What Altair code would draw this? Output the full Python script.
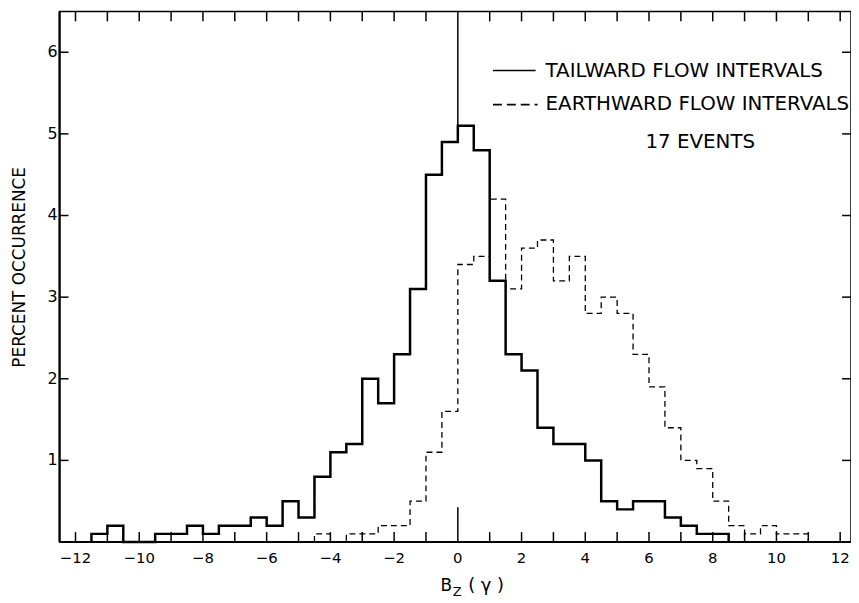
import altair as alt
import pandas as pd

# ---------------- data ----------------
tail_bin_left = [-11.5, -11.0, -10.5, -10.0, -9.5, -9.0, -8.5, -8.0, -7.5, -7.0,
                 -6.5, -6.0, -5.5, -5.0, -4.5, -4.0, -3.5, -3.0, -2.5, -2.0,
                 -1.5, -1.0, -0.5, 0.0, 0.5, 1.0, 1.5, 2.0, 2.5, 3.0,
                 3.5, 4.0, 4.5, 5.0, 5.5, 6.0, 6.5, 7.0, 7.5, 8.0]
tail_values = [0.1, 0.2, 0.0, 0.0, 0.1, 0.1, 0.2, 0.1, 0.2, 0.2,
               0.3, 0.2, 0.5, 0.3, 0.8, 1.1, 1.2, 2.0, 1.7, 2.3,
               3.1, 4.5, 4.9, 5.1, 4.8, 3.2, 2.3, 2.1, 1.4, 1.2,
               1.2, 1.0, 0.5, 0.4, 0.5, 0.5, 0.3, 0.2, 0.1, 0.1]
tail_end = 8.5

earth_bin_left = [-4.5, -4.0, -3.5, -3.0, -2.5, -2.0, -1.5, -1.0, -0.5, 0.0,
                  0.5, 1.0, 1.5, 2.0, 2.5, 3.0, 3.5, 4.0, 4.5, 5.0,
                  5.5, 6.0, 6.5, 7.0, 7.5, 8.0, 8.5, 9.0, 9.5, 10.0, 10.5]
earth_values = [0.1, 0.0, 0.1, 0.1, 0.2, 0.2, 0.5, 1.1, 1.6, 3.4,
                3.5, 4.2, 3.1, 3.6, 3.7, 3.2, 3.5, 2.8, 3.0, 2.8,
                2.3, 1.9, 1.4, 1.0, 0.9, 0.5, 0.2, 0.1, 0.2, 0.1, 0.1]
earth_end = 11.0

x_tick_positions = list(range(-12, 13))
x_tick_labels = [-12, -10, -8, -6, -4, -2, 0, 2, 4, 6, 8, 10, 12]
y_tick_labels = [1, 2, 3, 4, 5, 6]

legend_labels = ["TAILWARD FLOW INTERVALS", "EARTHWARD FLOW INTERVALS", "17 EVENTS"]
y_title = "PERCENT OCCURRENCE"

# ---------------- layout ----------------
W, H = 798, 535
X_DOMAIN = [-12.5, 12.34]
Y_DOMAIN = [0, 6.5]
FONT = "DejaVu Sans"

xs = alt.Scale(domain=X_DOMAIN, nice=False, zero=False)
ys = alt.Scale(domain=Y_DOMAIN, nice=False, zero=False)


def step_frame(lefts, values, end):
    bz = [lefts[0]] + list(lefts) + [end]
    pct = [0.0] + list(values) + [0.0]
    return pd.DataFrame({"bz": bz, "pct": pct, "order": list(range(len(bz)))})


tail_df = step_frame(tail_bin_left, tail_values, tail_end)
earth_df = step_frame(earth_bin_left, earth_values, earth_end)

tail = alt.Chart(tail_df).mark_line(
    interpolate="step-after", color="black", strokeWidth=2.5
).encode(
    x=alt.X("bz:Q", scale=xs, axis=None),
    y=alt.Y("pct:Q", scale=ys, axis=None),
    order="order:Q",
)

earth = alt.Chart(earth_df).mark_line(
    interpolate="step-after", color="black", strokeWidth=1.3, strokeDash=[6, 4]
).encode(
    x=alt.X("bz:Q", scale=xs, axis=None),
    y=alt.Y("pct:Q", scale=ys, axis=None),
    order="order:Q",
)

# tick labels drawn through the scales
xl_df = pd.DataFrame({
    "bz": x_tick_labels,
    "txt": [str(v).replace("-", "\u2212") for v in x_tick_labels],
})
yl_df = pd.DataFrame({"pct": y_tick_labels, "txt": [str(v) for v in y_tick_labels]})

x_labels = alt.Chart(xl_df).mark_text(
    font=FONT, fontSize=15, color="black", align="center", baseline="middle"
).encode(x=alt.X("bz:Q", scale=xs, axis=None), y=alt.value(H + 16), text="txt:N")
y_labels = alt.Chart(yl_df).mark_text(
    font=FONT, fontSize=16, color="black", align="right", baseline="middle"
).encode(y=alt.Y("pct:Q", scale=ys, axis=None), x=alt.value(-2), text="txt:N")

# inward tick marks on all four sides
xt_df = pd.DataFrame({"bz": [v for v in x_tick_positions if v != 0]})
yt_df = pd.DataFrame({"pct": y_tick_labels})
zero_df = pd.DataFrame({"bz": [0]})

bottom_ticks = alt.Chart(xt_df).mark_rule(color="black", strokeWidth=1.5).encode(
    x=alt.X("bz:Q", scale=xs, axis=None), y=alt.value(H), y2=alt.value(H - 10))
top_ticks = alt.Chart(xt_df).mark_rule(color="black", strokeWidth=1.5).encode(
    x=alt.X("bz:Q", scale=xs, axis=None), y=alt.value(0), y2=alt.value(10))
left_ticks = alt.Chart(yt_df).mark_rule(color="black", strokeWidth=1.5).encode(
    y=alt.Y("pct:Q", scale=ys, axis=None), x=alt.value(0), x2=alt.value(9))
right_ticks = alt.Chart(yt_df).mark_rule(color="black", strokeWidth=1.5).encode(
    y=alt.Y("pct:Q", scale=ys, axis=None), x=alt.value(W), x2=alt.value(W - 9))
zero_bottom = alt.Chart(zero_df).mark_rule(color="black", strokeWidth=1.5).encode(
    x=alt.X("bz:Q", scale=xs, axis=None), y=alt.value(H), y2=alt.value(H - 35))
zero_top = alt.Chart(zero_df).mark_rule(color="black", strokeWidth=1.5).encode(
    x=alt.X("bz:Q", scale=xs, axis=None), y=alt.value(0), y2=alt.value(120))

# heavier left and bottom frame lines
left_line = alt.Chart(yt_df.head(1)).mark_rule(color="black", strokeWidth=2.2).encode(
    x=alt.value(0), y=alt.value(0), y2=alt.value(H))
bottom_line = alt.Chart(yt_df.head(1)).mark_rule(color="black", strokeWidth=2.2).encode(
    y=alt.value(H), x=alt.value(0), x2=alt.value(W))

one = pd.DataFrame({"k": [0]})

leg_solid = alt.Chart(one).mark_rule(color="black", strokeWidth=1.6).encode(
    x=alt.value(437), x2=alt.value(480), y=alt.value(59.5))
leg_dash = alt.Chart(one).mark_rule(color="black", strokeWidth=1.6, strokeDash=[9, 5]).encode(
    x=alt.value(437), x2=alt.value(482), y=alt.value(94))


def label(text, x, y, size, align="left", angle=0):
    return alt.Chart(pd.DataFrame({"t": [text]})).mark_text(
        font=FONT, fontSize=size, color="black", align=align, baseline="middle", angle=angle
    ).encode(x=alt.value(x), y=alt.value(y), text="t:N")


leg_t1 = label(legend_labels[0], 490, 60, 20)
leg_t2 = label(legend_labels[1], 490, 93.5, 20)
leg_t3 = label(legend_labels[2], 646, 132, 20, align="center")

ytitle = label(y_title, -40, 258, 17, align="center", angle=270)
xt_b = label("B", 390, 579, 17, align="center")
xt_z = label("Z", 401, 585, 13, align="center")
xt_g = label("( γ )", 412, 579, 18)

chart = alt.layer(
    tail, earth, x_labels, y_labels, bottom_ticks, top_ticks, left_ticks, right_ticks,
    zero_bottom, zero_top, left_line, bottom_line,
    leg_solid, leg_dash, leg_t1, leg_t2, leg_t3, ytitle, xt_b, xt_z, xt_g,
).properties(
    width=W, height=H,
    padding={"left": 52, "top": 1, "right": 0, "bottom": 58},
    autosize=alt.AutoSizeParams(type="none"),
    background="white",
).configure_view(
    stroke="black", strokeWidth=1.5
)

chart.save("out.html", embed_options={"renderer": "svg", "actions": False})
